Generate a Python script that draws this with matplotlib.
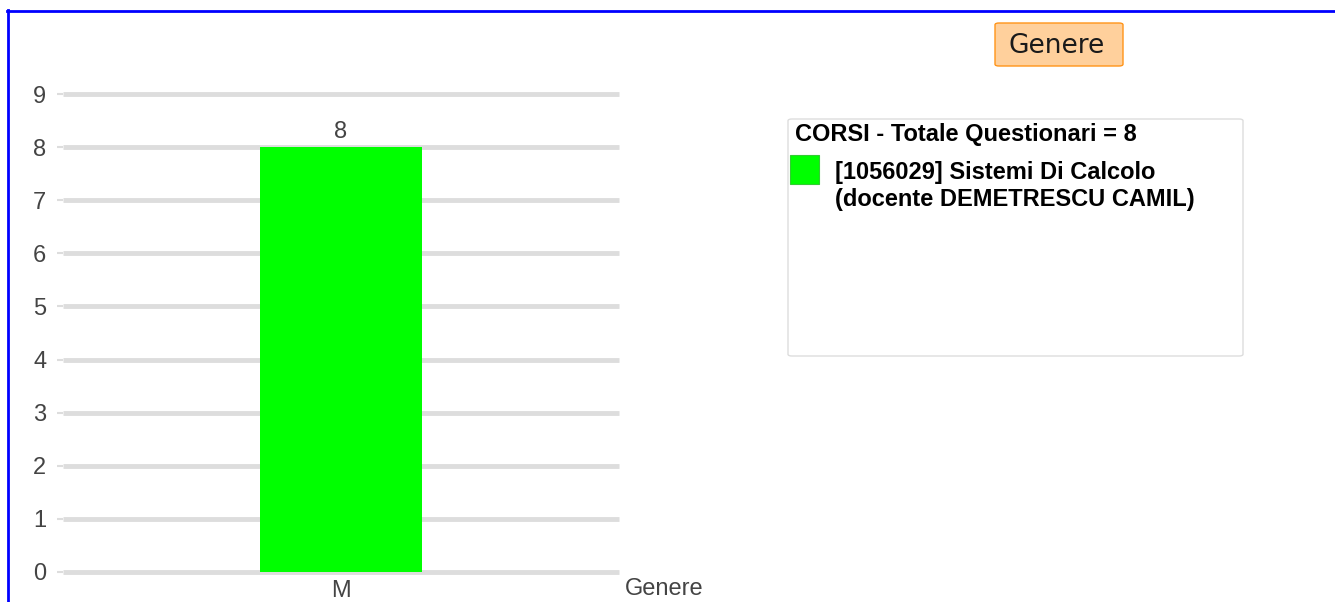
import matplotlib
matplotlib.use('Agg')
import matplotlib.pyplot as plt
from matplotlib.patches import FancyBboxPatch, Rectangle
from matplotlib.lines import Line2D

# data
categories = ['M']
values = [8]
y_ticks = list(range(0, 10))
series_name = '[1056029] Sistemi Di Calcolo\n(docente DEMETRESCU CAMIL)'
legend_title = 'CORSI - Totale Questionari = 8'
chart_title = 'Genere'
x_title = 'Genere'
bar_color = '#00ff00'

W, H = 1335, 602
fig = plt.figure(figsize=(W / 100, H / 100), dpi=100)
plt.rcParams['font.family'] = ['Liberation Sans', 'DejaVu Sans']


def fx(px):
    return px / W


def fy(py):
    return 1 - py / H


# plot area
ax = fig.add_axes([fx(63), fy(572), fx(619) - fx(63), fy(94) - fy(572)])
ax.bar(range(len(categories)), values, width=0.29, color=bar_color, zorder=3)
ax.set_xlim(-0.5, len(categories) - 0.5)
ax.set_ylim(0, 9)
ax.set_yticks(y_ticks)
ax.set_xticks(range(len(categories)))
ax.set_xticklabels(categories)
ax.tick_params(axis='y', colors='#dddddd', length=4, width=1.5, pad=8,
               labelsize=17, labelcolor='#444444')
ax.tick_params(axis='x', length=0, pad=6, labelsize=17, labelcolor='#444444')
ax.grid(axis='y', color='#dddddd', linewidth=3.5, zorder=1, solid_capstyle='butt')
for gl in ax.get_ygridlines():
    gl.set_clip_on(False)
for s in ax.spines.values():
    s.set_visible(False)

for i, v in enumerate(values):
    ax.annotate(str(v), (i, v), xytext=(0, 3), textcoords='offset points',
                ha='center', va='bottom', fontsize=17, color='#444444')

fig.text(fx(625), fy(589), x_title, ha='left', va='center', fontsize=17,
         color='#444444')

# outer blue frame
fig.add_artist(Line2D([fx(8), fx(8)], [fy(10), 0], color='#0000ff', lw=2))
fig.add_artist(Line2D([fx(7), 1], [fy(11), fy(11)], color='#0000ff', lw=2))

# title box
fig.add_artist(FancyBboxPatch((fx(995), fy(66)), fx(1123) - fx(995), fy(23) - fy(66),
                              boxstyle='round,pad=0,rounding_size=0.003',
                              facecolor='#ffd09c', edgecolor='#ff9419', lw=1,
                              transform=fig.transFigure))
fig.text(fx(1057), fy(46), chart_title, ha='center', va='center', fontsize=19,
         family='DejaVu Sans', color='#1a1a1a')

# legend box
fig.add_artist(FancyBboxPatch((fx(788), fy(356)), fx(1243) - fx(788), fy(119) - fy(356),
                              boxstyle='round,pad=0,rounding_size=0.003',
                              facecolor='white', edgecolor='#dddddd', lw=1,
                              transform=fig.transFigure))
fig.text(fx(795), fy(135), legend_title, ha='left', va='center', fontsize=17,
         fontweight='bold', color='black')
fig.add_artist(Rectangle((fx(790), fy(184)), fx(819) - fx(790), fy(155) - fy(184),
                         facecolor=bar_color, edgecolor='#33cc33', lw=0.8,
                         transform=fig.transFigure))
fig.text(fx(835), fy(161), series_name, ha='left', va='top', fontsize=17,
         fontweight='bold', color='black', linespacing=1.24)

fig.savefig('out.png', dpi=100)
